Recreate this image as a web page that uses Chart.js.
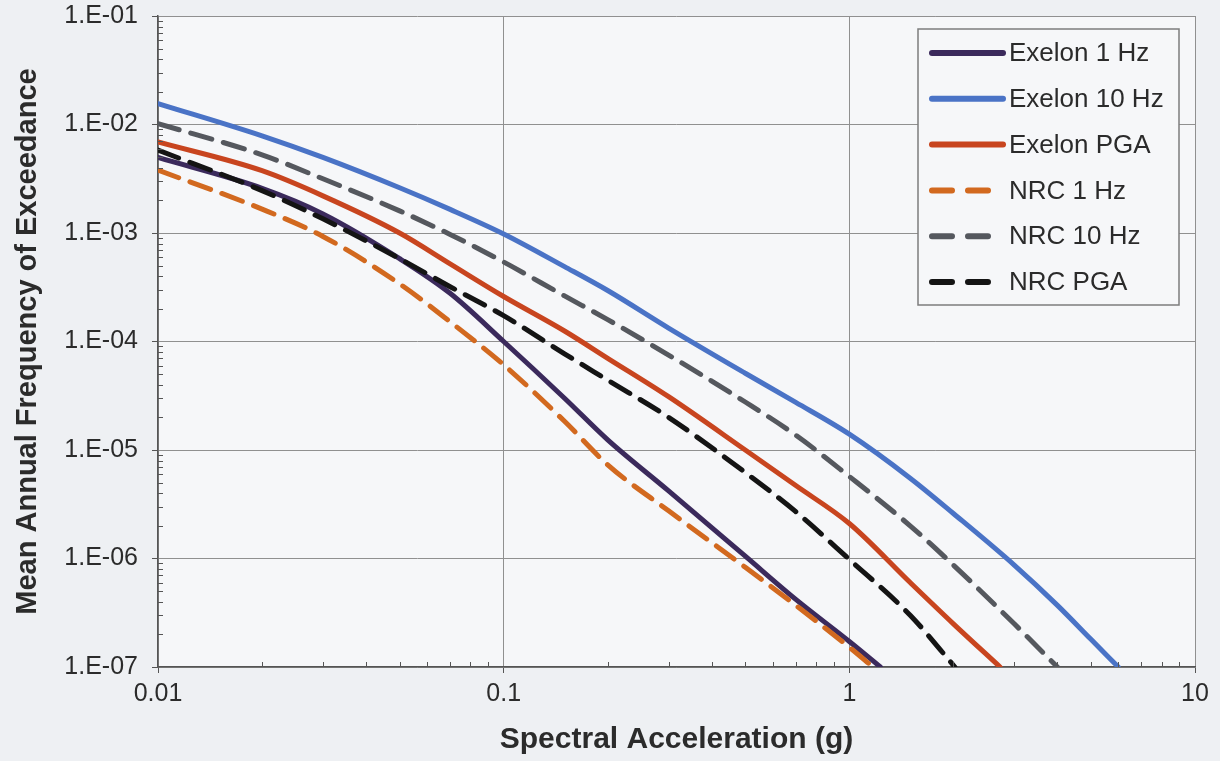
<!DOCTYPE html>
<html><head><meta charset="utf-8">
<script src="https://cdn.jsdelivr.net/npm/chart.js@4.4.1/dist/chart.umd.min.js"></script>
<style>html,body{margin:0;padding:0;background:#eef0f3;}canvas{display:block;}</style>
</head><body>
<canvas id="c" width="1220" height="761"></canvas>
<script>
// ---- data ----
const seriesNames = ['Exelon 1 Hz', 'Exelon 10 Hz', 'Exelon PGA', 'NRC 1 Hz', 'NRC 10 Hz', 'NRC PGA'];

const exelon1HzX = [0.01, 0.02, 0.03, 0.05, 0.07, 0.1, 0.15, 0.2, 0.3, 0.5, 0.7, 1.0, 1.23];
const exelon1HzY = [4.97e-3, 2.58e-3, 1.5e-3, 5.8e-4, 2.78e-4, 1.0e-4, 3.0e-5, 1.24e-5, 4.2e-6, 1.05e-6, 4.2e-7, 1.72e-7, 1.0e-7];

const exelon10HzX = [0.01, 0.02, 0.03, 0.05, 0.07, 0.1, 0.15, 0.2, 0.3, 0.5, 0.7, 1.0, 1.5, 2, 3, 4, 5, 6.0];
const exelon10HzY = [1.56e-2, 7.86e-3, 4.97e-3, 2.61e-3, 1.65e-3, 9.8e-4, 4.9e-4, 2.95e-4, 1.33e-4, 5.1e-5, 2.75e-5, 1.4e-5, 5.5e-6, 2.6e-6, 8.7e-7, 3.7e-7, 1.8e-7, 1.0e-7];

const exelonPgaX = [0.01, 0.02, 0.03, 0.05, 0.07, 0.1, 0.15, 0.2, 0.3, 0.5, 0.7, 1.0, 1.5, 2, 2.73];
const exelonPgaY = [6.9e-3, 3.75e-3, 2.2e-3, 1.0e-3, 5.2e-4, 2.6e-4, 1.25e-4, 7.0e-5, 3.1e-5, 1.0e-5, 4.7e-6, 2.1e-6, 6.0e-7, 2.5e-7, 1.0e-7];

const nrc1HzX = [0.01, 0.02, 0.03, 0.05, 0.07, 0.1, 0.15, 0.2, 0.3, 0.5, 0.7, 1.0, 1.17];
const nrc1HzY = [3.8e-3, 1.66e-3, 9.3e-4, 3.4e-4, 1.52e-4, 6.1e-5, 1.84e-5, 7.3e-6, 2.75e-6, 8.3e-7, 3.7e-7, 1.52e-7, 1.0e-7];

const nrc10HzX = [0.01, 0.02, 0.03, 0.05, 0.07, 0.1, 0.15, 0.2, 0.3, 0.5, 0.7, 1.0, 1.5, 2, 3, 4.0];
const nrc10HzY = [1.02e-2, 5.25e-3, 3.16e-3, 1.6e-3, 9.7e-4, 5.4e-4, 2.63e-4, 1.59e-4, 7.5e-5, 2.77e-5, 1.37e-5, 5.7e-6, 2.0e-6, 8.7e-7, 2.5e-7, 1.0e-7];

const nrcPgaX = [0.01, 0.02, 0.03, 0.05, 0.07, 0.1, 0.15, 0.2, 0.3, 0.5, 0.7, 1.0, 1.5, 2.02];
const nrcPgaY = [5.8e-3, 2.46e-3, 1.35e-3, 5.8e-4, 3.2e-4, 1.73e-4, 7.7e-5, 4.4e-5, 2.0e-5, 6.2e-6, 2.7e-6, 9.8e-7, 3.0e-7, 1.0e-7];

const xTickValues = [0.01, 0.1, 1, 10];
const xTickLabels = ['0.01', '0.1', '1', '10'];
const yTickValues = [1e-7, 1e-6, 1e-5, 1e-4, 1e-3, 1e-2, 1e-1];
const yTickLabels = ['1.E-07', '1.E-06', '1.E-05', '1.E-04', '1.E-03', '1.E-02', '1.E-01'];

const xTitle = 'Spectral Acceleration (g)';
const yTitle = 'Mean Annual Frequency of Exceedance';

// ---- styling ----
const FONT = '"Liberation Sans", Arial, Helvetica, sans-serif';
const PAGE_BG = '#eef0f3';
const PLOT_BG = '#f6f7f9';
const TEXT = '#2b2b2b';
const DASH = [22, 12];

function pts(xs, ys) { return xs.map((x, i) => ({ x: x, y: ys[i] })); }

const seriesStyle = [
  { color: '#3b2a5c', dash: [], order: 1 },
  { color: '#4a73c6', dash: [], order: 1 },
  { color: '#c8451f', dash: [], order: 1 },
  { color: '#d2691f', dash: DASH, order: 0 },
  { color: '#55585e', dash: DASH, order: 0 },
  { color: '#141414', dash: DASH, order: 0 }
];
const seriesData = [
  pts(exelon1HzX, exelon1HzY),
  pts(exelon10HzX, exelon10HzY),
  pts(exelonPgaX, exelonPgaY),
  pts(nrc1HzX, nrc1HzY),
  pts(nrc10HzX, nrc10HzY),
  pts(nrcPgaX, nrcPgaY)
];

const datasets = seriesNames.map((name, i) => ({
  label: name,
  data: seriesData[i],
  borderColor: seriesStyle[i].color,
  backgroundColor: seriesStyle[i].color,
  borderDash: seriesStyle[i].dash,
  borderWidth: 5,
  borderCapStyle: 'round',
  borderJoinStyle: 'round',
  pointRadius: 0,
  cubicInterpolationMode: 'monotone',
  fill: false,
  order: seriesStyle[i].order
}));

const bgPlugin = {
  id: 'bg',
  beforeDraw(chart) {
    const { ctx, chartArea: a } = chart;
    ctx.save();
    ctx.fillStyle = PAGE_BG;
    ctx.fillRect(0, 0, chart.width, chart.height);
    ctx.fillStyle = PLOT_BG;
    ctx.fillRect(a.left, a.top, a.right - a.left, a.bottom - a.top);
    ctx.restore();
  }
};

const minorTickPlugin = {
  id: 'minorTicks',
  afterDatasetsDraw(chart) {
    const { ctx, chartArea: a, scales } = chart;
    ctx.save();
    ctx.strokeStyle = '#555';
    ctx.lineWidth = 1;
    ctx.beginPath();
    for (let d = -7; d <= -2; d++) {
      for (let m = 2; m <= 9; m++) {
        const y = Math.round(scales.y.getPixelForValue(m * Math.pow(10, d))) + 0.5;
        ctx.moveTo(a.left, y); ctx.lineTo(a.left + 5, y);
      }
    }
    for (let d = -2; d <= 0; d++) {
      for (let m = 2; m <= 9; m++) {
        const x = Math.round(scales.x.getPixelForValue(m * Math.pow(10, d))) + 0.5;
        ctx.moveTo(x, a.bottom); ctx.lineTo(x, a.bottom - 5);
      }
    }
    ctx.stroke();
    ctx.restore();
  }
};

const legendPlugin = {
  id: 'boxLegend',
  afterDraw(chart) {
    const { ctx, chartArea: a } = chart;
    const w = 261, h = 276;
    const left = a.right - 16 - w, top = a.top + 13;
    ctx.save();
    ctx.fillStyle = PLOT_BG;
    ctx.fillRect(left, top, w, h);
    ctx.strokeStyle = '#7d7d7d';
    ctx.lineWidth = 1.5;
    ctx.strokeRect(left, top, w, h);
    chart.data.datasets.forEach((ds, i) => {
      const y = top + 24 + i * 45.8;
      ctx.beginPath();
      ctx.lineCap = 'round';
      ctx.lineWidth = 6;
      ctx.strokeStyle = ds.borderColor;
      if (ds.borderDash && ds.borderDash.length) {
        ctx.setLineDash([20, 16]);
        ctx.moveTo(left + 14, y); ctx.lineTo(left + 70, y);
      } else {
        ctx.setLineDash([]);
        ctx.moveTo(left + 14, y); ctx.lineTo(left + 85, y);
      }
      ctx.stroke();
      ctx.setLineDash([]);
      ctx.fillStyle = TEXT;
      ctx.font = '26px ' + FONT;
      ctx.textBaseline = 'middle';
      ctx.textAlign = 'left';
      ctx.fillText(ds.label, left + 91, y + 1);
    });
    ctx.restore();
  }
};

new Chart(document.getElementById('c'), {
  type: 'line',
  data: { datasets: datasets },
  plugins: [bgPlugin, minorTickPlugin, legendPlugin],
  options: {
    responsive: false,
    animation: false,
    layout: { padding: { top: 16, right: 25, bottom: 0, left: 0 } },
    plugins: { legend: { display: false }, tooltip: { enabled: false } },
    scales: {
      x: {
        type: 'logarithmic',
        min: 0.01, max: 10,
        afterBuildTicks: s => { s.ticks = xTickValues.map(v => ({ value: v, major: true })); },
        afterFit: s => { s.height = 94; s.paddingLeft = 0; s.paddingRight = 0; },
        ticks: {
          callback: (v, i) => xTickLabels[i],
          font: { family: FONT, size: 25 }, color: TEXT,
          padding: 6, maxRotation: 0, minRotation: 0, autoSkip: false
        },
        grid: { color: '#909090', lineWidth: 1, tickLength: 6, tickColor: '#555' },
        border: { color: '#555', width: 1.5 },
        title: {
          display: true, text: xTitle, color: TEXT,
          font: { family: FONT, size: 30, weight: 'bold' },
          padding: { top: 0, bottom: 3 }
        }
      },
      y: {
        type: 'logarithmic',
        min: 1e-7, max: 1e-1,
        afterBuildTicks: s => { s.ticks = yTickValues.map(v => ({ value: v, major: true })); },
        afterFit: s => { s.width = 158; s.paddingTop = 0; s.paddingBottom = 0; },
        ticks: {
          callback: (v, i) => yTickLabels[i],
          font: { family: FONT, size: 25 }, color: TEXT,
          padding: 14, autoSkip: false
        },
        grid: { color: '#909090', lineWidth: 1, tickLength: 6, tickColor: '#555' },
        border: { color: '#555', width: 1.5 },
        title: {
          display: true, text: yTitle, color: TEXT,
          font: { family: FONT, size: 29, weight: 'bold' },
          padding: { top: 11, bottom: 0 }
        }
      }
    }
  }
});
</script>
</body></html>
